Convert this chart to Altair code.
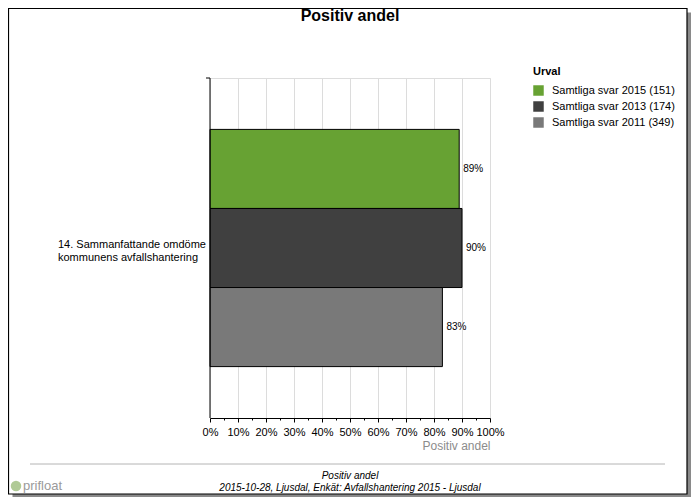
import altair as alt
import pandas as pd

series = ["Samtliga svar 2015 (151)", "Samtliga svar 2013 (174)", "Samtliga svar 2011 (349)"]
values = [89, 90, 83]
colors = ["#67a233", "#404040", "#797979"]
question = ["14. Sammanfattande omdöme", "kommunens avfallshantering"]
chart_title = "Positiv andel"
x_title = "Positiv andel"
footer = ["Positiv andel", "2015-10-28, Ljusdal, Enkät: Avfallshantering 2015 - Ljusdal"]

FONT = "Liberation Sans"
W, H = 280, 340
PL, PT = 202, 70
SW, SH = 684, 490

df = pd.DataFrame({"series": series, "value": values,
                   "label": [f"{v}%" for v in values]})
one = pd.DataFrame({"a": [0]})

xscale = alt.Scale(domain=[0, 100], nice=False)
yenc = alt.Y("series:N", sort=series, axis=None,
             scale=alt.Scale(paddingInner=0, paddingOuter=0.65))

FR, FB = SW - PL - 5, SH - PT - 4   # frame right / bottom in plot coords
FL, FT = -PL + 0.5, -PT + 0.5

shadow_r = alt.Chart(one).mark_rect(fill="#8a8a8a").encode(
    x=alt.value(FR), x2=alt.value(FR + 4), y=alt.value(FT + 4), y2=alt.value(FB + 3))
shadow_b = alt.Chart(one).mark_rect(fill="#8a8a8a").encode(
    x=alt.value(FL + 4), x2=alt.value(FR + 4), y=alt.value(FB), y2=alt.value(FB + 3))
frame = alt.Chart(one).mark_rect(fill=None, stroke="black", strokeWidth=1.2).encode(
    x=alt.value(FL), x2=alt.value(FR), y=alt.value(FT), y2=alt.value(FB))

bars = alt.Chart(df).mark_bar(stroke="black", strokeWidth=1).encode(
    x=alt.X("value:Q", scale=xscale,
            axis=alt.Axis(values=list(range(0, 101, 5)), tickCount=21,
                          labelExpr="datum.value % 10 === 0 ? datum.value + '%' : ''",
                          title=x_title, titleAlign="right", titleAnchor="end",
                          titleColor="#8c8c8c", titleFont=FONT, titleFontSize=12,
                          titleFontWeight="normal", titlePadding=3,
                          labelFont=FONT, labelFontSize=11, labelColor="black",
                          labelPadding=4,
                          tickSize={"condition": {"test": "datum.value % 10 === 0", "value": 4}, "value": 2},
                          tickColor="black",
                          domainColor="black", grid=True,
                          gridOpacity={"condition": {"test": "datum.value % 10 === 0", "value": 1}, "value": 0},
                          gridColor="#dcdcdc",
                          labelFlush=False, labelOverlap=False)),
    y=yenc,
    fill=alt.Fill("series:N", sort=series,
                  scale=alt.Scale(domain=series, range=colors),
                  legend=alt.Legend(title="Urval", orient="none", legendX=323, legendY=-12,
                                    titleFont=FONT, titleFontSize=11, titleFontWeight="bold",
                                    titleColor="black", labelFont=FONT, labelFontSize=11,
                                    labelColor="black", symbolType="square", symbolSize=110,
                                    symbolStrokeWidth=0, rowPadding=4, titlePadding=8,
                                    padding=0, offset=0, labelOffset=8)),
)

labels = alt.Chart(df).mark_text(align="left", dx=4, font=FONT, fontSize=10,
                                 color="black").encode(
    x=alt.X("value:Q", scale=xscale), y=yenc, text="label:N")

yaxis = alt.Chart(one).mark_rule(color="black", strokeWidth=1).encode(
    x=alt.value(0), y=alt.value(0), y2=alt.value(H))
ytop = alt.Chart(one).mark_rule(color="black", strokeWidth=1).encode(
    x=alt.value(-4), x2=alt.value(0), y=alt.value(0))

qtext = alt.Chart(one).mark_text(align="left", baseline="middle", font=FONT, fontSize=11,
                                 lineHeight=13, color="black").encode(
    x=alt.value(58 - 210), y=alt.value(251 - 78 - 6), text=alt.value(question))

title = alt.Chart(one).mark_text(align="center", baseline="middle", font=FONT, fontSize=16,
                                 fontWeight="bold", color="black").encode(
    x=alt.value(140), y=alt.value(16 - 78), text=alt.value(chart_title))

fline = alt.Chart(one).mark_rule(color="#b4b4b4", strokeWidth=1).encode(
    x=alt.value(30 - 210), x2=alt.value(665 - 210), y=alt.value(464 - 78))

ftext = alt.Chart(one).mark_text(align="center", baseline="middle", font=FONT, fontSize=10,
                                 fontStyle="italic", lineHeight=12, color="black").encode(
    x=alt.value(140), y=alt.value(476 - 78), text=alt.value(footer))

logo_dot = alt.Chart(one).mark_point(filled=True, color="#8fb46a", size=110, shape="circle").encode(
    x=alt.value(16 - 210), y=alt.value(486 - 78))
logo = alt.Chart(one).mark_text(align="left", baseline="middle", font=FONT, fontSize=13,
                                color="#9a9a9a").encode(
    x=alt.value(23 - 210), y=alt.value(486 - 78), text=alt.value("prifloat"))

chart = alt.layer(shadow_r, shadow_b, frame, bars, labels, yaxis, ytop, qtext, title, fline,
                  ftext, logo_dot, logo).properties(
    width=W, height=H,
    autosize=alt.AutoSizeParams(type="none"),
    padding={"left": PL, "top": PT, "right": SW - PL - W, "bottom": SH - PT - H},
).configure_view(stroke=None).configure(background="white")

chart.save("out.html", embed_options={"renderer": "svg", "actions": False})
